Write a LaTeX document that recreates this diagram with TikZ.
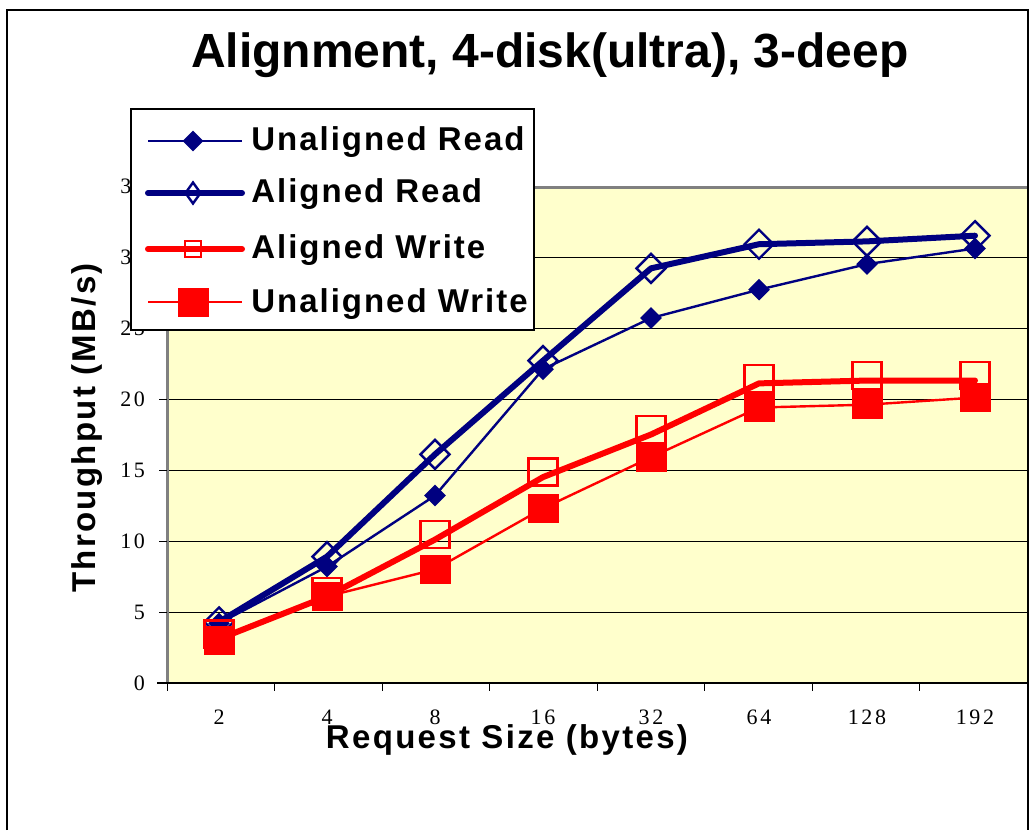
\documentclass[tikz,border=0pt]{standalone}
\usepackage{fontspec}
\setmainfont{Liberation Serif}
\setsansfont{Liberation Sans}
\usetikzlibrary{shapes.geometric}
\definecolor{readcol}{RGB}{0,0,128}
\definecolor{writecol}{RGB}{255,0,0}
\definecolor{plotbg}{RGB}{255,255,204}
\definecolor{areacol}{RGB}{128,128,128}

\begin{document}
\begin{tikzpicture}[
  x=0.5pt, y=-0.5pt,
  titlefont/.style={font=\sffamily\bfseries\fontsize{24}{28}\selectfont},
  axisfont/.style={font=\sffamily\bfseries\fontsize{16.5}{20}\selectfont\addfontfeature{LetterSpace=7}},
  legfont/.style={font=\sffamily\bfseries\fontsize{16.5}{20}\selectfont\addfontfeature{LetterSpace=6}},
  tickfont/.style={font=\fontsize{11}{13}\selectfont\addfontfeature{LetterSpace=12}},
  urline/.style={readcol,line width=1.2pt,line join=round},
  arline/.style={readcol,line width=3pt,line cap=round,line join=round},
  awline/.style={writecol,line width=3pt,line cap=round,line join=round},
  uwline/.style={writecol,line width=1.2pt,line join=round},
  urmark/.style={diamond,fill=readcol,inner sep=0pt,minimum size=11pt},
  armark/.style={diamond,draw=readcol,line width=1.2pt,inner sep=0pt,minimum size=15pt},
  awmark/.style={rectangle,draw=writecol,line width=1.2pt,inner sep=0pt,minimum width=14.5pt,minimum height=13.5pt},
  uwmark/.style={rectangle,fill=writecol,inner sep=0pt,minimum width=15.5pt,minimum height=14.5pt},
]
\useasboundingbox (0,0) rectangle (1032,830);
% --- frame and title ---
\draw[line width=1pt] (7,830) -- (7,10) -- (1028,10) -- (1028,830);
\node[titlefont] (title) at (550,55) {Alignment, 4-disk(ultra), 3-deep};

% --- plot area, grid and axes ---
\fill[plotbg] (167,187) rectangle (1027,683);
\foreach \v in {5,10,...,30}
  \draw[line width=0.5pt] (167,{683-14.2*\v}) -- (1027,{683-14.2*\v});
\draw[areacol,line width=1.5pt] (167,683) -- (167,187) -- (1027,187);
\draw[line width=0.7pt] (157,683) -- (1027,683);
\foreach \v in {0,5,...,35} {
  \draw[line width=0.5pt] (159,{683-14.2*\v}) -- (167,{683-14.2*\v});
  \node[tickfont,anchor=east] (yl\v) at (152,{683-14.2*\v}) {\v};
}
\foreach \k in {0,...,8}
  \draw[line width=0.5pt] ({167+107.5*\k},683) -- ({167+107.5*\k},691);
\foreach \s [count=\i from 0] in {2,4,8,16,32,64,128,192}
  \node[tickfont] (xl\i) at ({219+108*\i},717) {\s};
\node[axisfont,anchor=base] (xtitle) at (507,748) {Request Size (bytes)};
\node[axisfont,rotate=90,anchor=base] (ytitle) at (95,428) {Throughput (MB/s)};

% --- data points ---
\foreach \v [count=\i from 0] in {4.2,8.2,13.2,22.1,25.7,27.7,29.5,30.6}
  \coordinate (ur\i) at ({219+108*\i},{683-14.2*\v});
\foreach \v [count=\i from 0] in {4.3,8.9,16.1,22.7,29.2,30.9,31.1,31.5}
  \coordinate (ar\i) at ({219+108*\i},{683-14.2*\v});
\foreach \v [count=\i from 0] in {3.1,6.1,10.1,14.5,17.5,21.1,21.3,21.3}
  \coordinate (aw\i) at ({219+108*\i},{683-14.2*\v});
\foreach \v [count=\i from 0] in {3.0,6.1,8.0,12.3,15.9,19.4,19.6,20.1}
  \coordinate (uw\i) at ({219+108*\i},{683-14.2*\v});

% --- series ---
\draw[arline] (ar0) \foreach \i in {1,...,7} { -- (ar\i) };
\draw[urline] (ur0) \foreach \i in {1,...,7} { -- (ur\i) };
\draw[awline] (aw0) \foreach \i in {1,...,7} { -- (aw\i) };
\draw[uwline] (uw0) \foreach \i in {1,...,7} { -- (uw\i) };
\foreach \i in {0,...,7} {
  \node[armark] (arm\i) at (ar\i) {};
  \node[urmark] (urm\i) at (ur\i) {};
  \node[awmark,yshift=2.5pt] (awm\i) at (aw\i) {};
  \node[uwmark] (uwm\i) at (uw\i) {};
}

% --- legend ---
\node[draw,fill=white,line width=0.6pt,inner sep=0pt,minimum width=201.5pt,minimum height=110.5pt] (legend) at (332.5,219.5) {};
\coordinate (lg1a) at (148,141); \coordinate (lg1b) at (242,141);
\coordinate (lg2a) at (148,193); \coordinate (lg2b) at (242,193);
\coordinate (lg3a) at (148,249); \coordinate (lg3b) at (242,249);
\coordinate (lg4a) at (148,302); \coordinate (lg4b) at (242,302);
\draw[urline] (lg1a) -- (lg1b);
\draw[arline] (lg2a) -- (lg2b);
\draw[awline] (lg3a) -- (lg3b);
\draw[uwline] (lg4a) -- (lg4b);
\node[urmark,minimum size=10.5pt] (lgm1) at (193,141) {};
\node[armark,minimum size=0pt,minimum width=8pt,minimum height=11pt] (lgm2) at (193,193) {};
\node[awmark,minimum width=8pt,minimum height=8pt] (lgm3) at (193,249) {};
\node[uwmark] (lgm4) at (193,302) {};
\node[legfont,anchor=base west,inner sep=0pt] (lgt1) at (251,150) {Unaligned Read};
\node[legfont,anchor=base west,inner sep=0pt] (lgt2) at (251,202) {Aligned Read};
\node[legfont,anchor=base west,inner sep=0pt] (lgt3) at (251,258) {Aligned Write};
\node[legfont,anchor=base west,inner sep=0pt] (lgt4) at (251,312) {Unaligned Write};
\end{tikzpicture}
\end{document}
